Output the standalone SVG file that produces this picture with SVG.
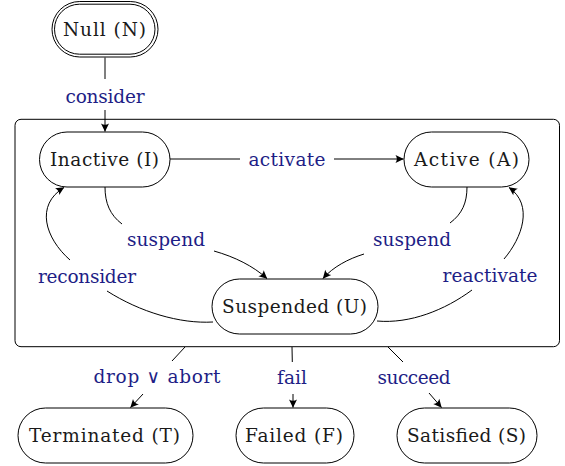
<svg xmlns="http://www.w3.org/2000/svg" width="565" height="466" viewBox="0 0 565 466">
<style>
.node{fill:#fff;stroke:#000;stroke-width:1}
.nt{font-family:"DejaVu Serif","Liberation Serif",serif;font-size:18.5px;fill:#1a1a1a;text-anchor:middle}
.lb{font-family:"DejaVu Serif","Liberation Serif",serif;font-size:18.5px;fill:#1e1e86;text-anchor:middle}
.c{fill:none;stroke:#000;stroke-width:1}
.a{marker-end:url(#arr)}
</style>
<defs>
<marker id="arr" viewBox="-9 -5 10 10" refX="0" refY="0" markerWidth="10" markerHeight="10" markerUnits="userSpaceOnUse" orient="auto">
<path d="M0.3,0 L-8,-4 Q-5.3,0 -8,4 Z" fill="#000"/>
</marker>
</defs>
<rect x="15" y="119.3" width="544.5" height="227.4" rx="6" ry="6" fill="none" stroke="#000" stroke-width="1"/>
<g id="connectors">
<path class="c" d="M105,57.5 L105,79"/>
<path class="c a" d="M105,110 L105,131.5"/>
<path class="c" d="M170,159 L240,159"/>
<path class="c a" d="M334,159 L403.5,159"/>
<path class="c" d="M105,187 C105,203 110,215 122,224"/>
<path class="c a" d="M214,251 C235,257 253,266 267,278.5"/>
<path class="c" d="M467,187 C467,203 462,214 450,223"/>
<path class="c a" d="M364,254 C348,259 333,267 323,278.5"/>
<path class="c" d="M213,322 C180,324 140,312 107,291"/>
<path class="c a" d="M70,260 C45,238 35,205 64,187.5"/>
<path class="c" d="M377,321 C410,324 445,310 472,290"/>
<path class="c a" d="M504,259 C522,238 534,205 509,187.5"/>
<path class="c" d="M185,347 L172,361"/>
<path class="c a" d="M143,394 L130.5,407.5"/>
<path class="c" d="M292,347 L292.3,362"/>
<path class="c a" d="M293,394 L293,407.5"/>
<path class="c" d="M388,347 L403,362"/>
<path class="c a" d="M429,393 L441.5,407.5"/>
<text class="lb" x="105" y="103" textLength="79">consider</text>
<text class="lb" x="287" y="166" textLength="77">activate</text>
<text class="lb" x="166" y="246" textLength="78">suspend</text>
<text class="lb" x="412" y="246" textLength="78">suspend</text>
<text class="lb" x="87" y="283" textLength="98">reconsider</text>
<text class="lb" x="490" y="282" textLength="95">reactivate</text>
<text class="lb" x="157" y="383" textLength="127">drop ∨ abort</text>
<text class="lb" x="292" y="384" textLength="30">fail</text>
<text class="lb" x="414" y="384" textLength="73">succeed</text>
</g>
<g id="N">
<rect class="node" x="52" y="1.5" width="106" height="55.5" rx="27.75"/>
<rect class="node" x="54.5" y="4.2" width="100.5" height="50" rx="25"/>
<text class="nt" x="104.5" y="35.5" textLength="83">Null (N)</text>
</g>
<g id="I">
<rect class="node" x="39.5" y="132" width="130.5" height="55" rx="27.5"/>
<text class="nt" x="104.5" y="166" textLength="109">Inactive (I)</text>
</g>
<g id="A">
<rect class="node" x="404" y="132" width="125" height="55" rx="27.5"/>
<text class="nt" x="466.5" y="166" textLength="105">Active (A)</text>
</g>
<g id="U">
<rect class="node" x="212" y="279" width="166" height="55" rx="27.5"/>
<text class="nt" x="294.5" y="313" textLength="145">Suspended (U)</text>
</g>
<g id="T">
<rect class="node" x="18" y="408" width="175" height="55" rx="27.5"/>
<text class="nt" x="104.5" y="442" textLength="151">Terminated (T)</text>
</g>
<g id="F">
<rect class="node" x="236" y="408" width="118" height="55" rx="27.5"/>
<text class="nt" x="294" y="442" textLength="98">Failed (F)</text>
</g>
<g id="S">
<rect class="node" x="397" y="408" width="140" height="55" rx="27.5"/>
<text class="nt" x="466.5" y="442" textLength="119">Satisfied (S)</text>
</g>
</svg>
